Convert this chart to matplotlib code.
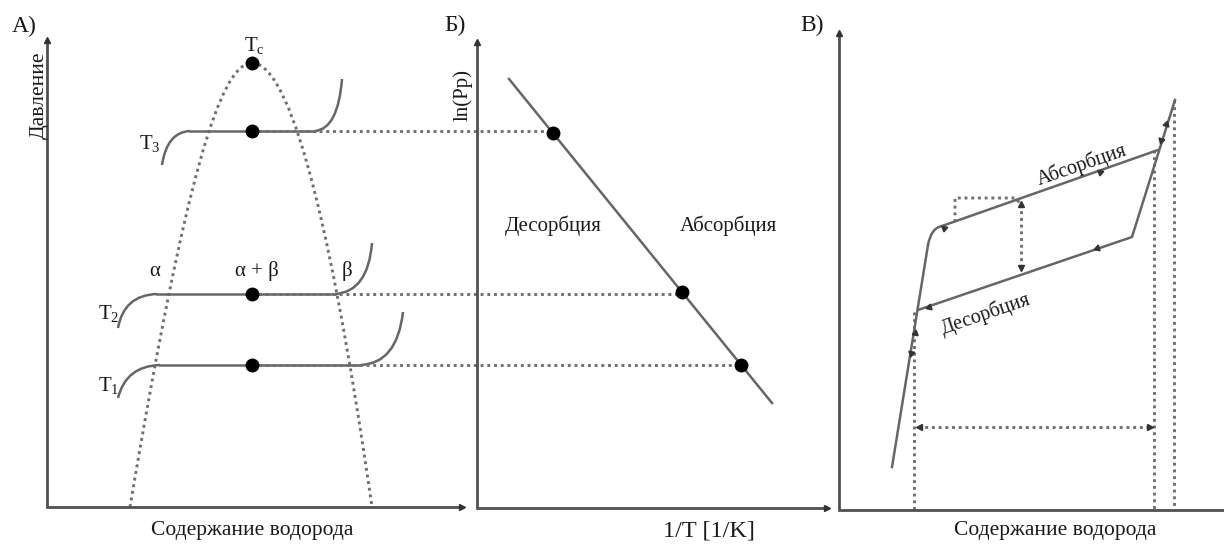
import numpy as np
import matplotlib.pyplot as plt
from matplotlib.path import Path
from matplotlib.patches import PathPatch

plt.rcParams['font.family'] = ['Liberation Serif', 'DejaVu Serif']
plt.rcParams['mathtext.fontset'] = 'custom'
plt.rcParams['mathtext.rm'] = 'Liberation Serif'
plt.rcParams['mathtext.it'] = 'Liberation Serif'

# canvas units: x to the right, y downwards (same grid for all three panels)
W, H = 1224, 544

# ---- panel A: isotherms and two-phase dome ----
axA_x = [47, 47, 462]
axA_y = [40, 507, 507]

# plateau pressures for T3, T2, T1 and plateau limits
plateau_y = [131, 294, 365]
plateau_x0 = [190, 157, 160]
plateau_x1 = [315, 335, 360]
# left branch (start, control) and right branch (control, end) of every isotherm
left_start = [(162, 165), (118, 328), (118, 398)]
left_ctrl = [(167, 132), (124, 295), (126, 366)]
right_ctrl = [(338, 129), (368, 292), (397, 364)]
right_end = [(342, 79), (372, 243), (403, 312)]
iso_labels = ['T$_3$', 'T$_2$', 'T$_1$']
iso_label_pos = [(150, 143), (109, 313), (109, 386)]

dot_x = 252
crit = (252, 63)
dome_left = [(130, 507), (185, 180), (220, 63), (252, 63)]
dome_right = [(252, 63), (285, 63), (325, 180), (372, 507)]

# ---- panel B: van 't Hoff line ----
axB_x = [477, 477, 827]
axB_y = [42, 508, 508]
vh_line_x = [509, 772]
vh_line_y = [79, 403]
vh_dots_x = [553, 682, 741]

# ---- panel C: hysteresis loop ----
axC_x = [839, 839, 1224]
axC_y = [33, 510, 510]
abs_path = [(892, 467), (928, 245), (931, 228), (942, 226), (1158, 150)]
des_path = [(918, 310), (1132, 237), (1175, 100)]
vert_dotted_x = [914, 1154, 1174]
vert_dotted_top = [312, 150, 100]
span_y = 427
mid_x = 1021
mid_y = [204, 268]
box_x = [955, 955, 1015, 1021]
box_y = [222, 198, 198, 204]

# small direction arrows on the loop: x, y, direction in degrees
flow_x = [944, 1100, 929, 1097, 915, 911, 1166, 1161]
flow_y = [228, 172, 307, 248, 333, 353, 124, 140]
flow_dir = [19, 19, 199, 199, 80, 260, 73, 253]

axis_c = '#505050'
line_c = '#666666'
dot_c = '#707070'
text_c = '#1a1a1a'
dotted = (0, (1.0, 1.3))
dlw = 2.1

fig = plt.figure(figsize=(W / 100, H / 100), dpi=100)
ax = fig.add_axes([0, 0, 1, 1])
ax.set_xlim(0, W)
ax.set_ylim(H, 0)
ax.axis('off')


def bezier(pts, **kw):
    codes = [Path.MOVETO] + [Path.CURVE4] * (len(pts) - 1)
    ax.add_patch(PathPatch(Path(pts, codes), fill=False, **kw))


def quad(p0, p1, p2, **kw):
    codes = [Path.MOVETO, Path.CURVE3, Path.CURVE3]
    ax.add_patch(PathPatch(Path([p0, p1, p2], codes), fill=False, **kw))


# axes frames
for xs, ys in [(axA_x, axA_y), (axB_x, axB_y), (axC_x, axC_y)]:
    ax.plot(xs, ys, color=axis_c, lw=2.0, solid_joinstyle='miter', zorder=3)
    ax.plot(xs[0], ys[0], marker='^', ms=4, color='#333333', zorder=4)
ax.plot(axA_x[2], axA_y[2], marker='>', ms=4, color='#333333', zorder=4)
ax.plot(axB_x[2], axB_y[2], marker='>', ms=4, color='#333333', zorder=4)

# dome
bezier(dome_left, color=dot_c, lw=dlw, linestyle=dotted)
bezier(dome_right, color=dot_c, lw=dlw, linestyle=dotted)

# isotherms
for i in range(3):
    y = plateau_y[i]
    quad(left_start[i], left_ctrl[i], (plateau_x0[i], y), color=line_c, lw=1.8)
    ax.plot([plateau_x0[i], plateau_x1[i]], [y, y], color=line_c, lw=1.8)
    quad((plateau_x1[i], y), right_ctrl[i], right_end[i], color=line_c, lw=1.8)
    ax.text(*iso_label_pos[i], iso_labels[i], fontsize=15, color=text_c,
            ha='center', va='center')

# plateau -> van 't Hoff dotted links
for y, xb in zip(plateau_y, vh_dots_x):
    ax.plot([dot_x, xb], [y, y], color=dot_c, lw=dlw, linestyle=dotted, zorder=2)

ax.plot([dot_x] * 3, plateau_y, 'o', color='black', ms=9, zorder=5)
ax.plot(*crit, 'o', color='black', ms=9, zorder=5)
ax.text(crit[0] + 2, crit[1] - 17, 'T$_c$', fontsize=15, color=text_c,
        ha='center', va='center')

ax.text(155, 271, 'α', fontsize=15, color=text_c, ha='center', va='center')
ax.text(257, 271, 'α + β', fontsize=15, color=text_c, ha='center', va='center')
ax.text(347, 271, 'β', fontsize=15, color=text_c, ha='center', va='center')

ax.text(24, 26, 'А)', fontsize=17, color=text_c, ha='center', va='center')
ax.text(39, 95, 'Давление', fontsize=15.5, color=text_c, rotation=90,
        ha='center', va='center')
ax.text(252, 531, 'Содержание водорода', fontsize=15.5, color=text_c,
        ha='center', va='center')

# panel B
ax.plot(vh_line_x, vh_line_y, color=line_c, lw=1.8)
slope = (vh_line_y[1] - vh_line_y[0]) / (vh_line_x[1] - vh_line_x[0])
vh_dots_y = [vh_line_y[0] + slope * (x - vh_line_x[0]) for x in vh_dots_x]
ax.plot(vh_dots_x, vh_dots_y, 'o', color='black', ms=9, zorder=5)
ax.text(553, 226, 'Десорбция', fontsize=15, color=text_c, ha='center', va='center')
ax.text(728, 226, 'Абсорбция', fontsize=15, color=text_c, ha='center', va='center')
ax.text(455, 25, 'Б)', fontsize=17, color=text_c, ha='center', va='center')
ax.text(463, 95, 'ln(Pp)', fontsize=15, color=text_c, rotation=90,
        ha='center', va='center')
ax.text(709, 531, '1/T [1/K]', fontsize=17.5, color=text_c, ha='center', va='center')

# panel C
for x, top in zip(vert_dotted_x, vert_dotted_top):
    ax.plot([x, x], [top, axC_y[1]], color=dot_c, lw=dlw, linestyle=dotted, zorder=2)
ax.plot([vert_dotted_x[0] + 4, vert_dotted_x[1] - 4], [span_y, span_y], color=dot_c,
        lw=dlw, linestyle=dotted, zorder=2)
ax.plot(vert_dotted_x[0] + 5, span_y, marker='<', ms=5, color='#333333')
ax.plot(vert_dotted_x[1] - 4, span_y, marker='>', ms=5, color='#333333')
ax.plot([mid_x, mid_x], mid_y, color=dot_c, lw=dlw, linestyle=dotted, zorder=2)
ax.plot(mid_x, mid_y[0], marker='^', ms=5, color='#333333')
ax.plot(mid_x, mid_y[1], marker='v', ms=5, color='#333333')
ax.plot(box_x, box_y, color=dot_c, lw=dlw, linestyle=dotted, zorder=2)

p = abs_path
ax.plot([p[0][0], p[1][0]], [p[0][1], p[1][1]], color=line_c, lw=1.8)
quad(p[1], p[2], p[3], color=line_c, lw=1.8)
ax.plot([p[3][0], p[4][0]], [p[3][1], p[4][1]], color=line_c, lw=1.8)
ax.plot([q[0] for q in des_path], [q[1] for q in des_path], color=line_c, lw=1.8)

for x, y, d in zip(flow_x, flow_y, flow_dir):
    ax.plot(x, y, marker=(3, 0, d - 90), ms=5, color='#333333', zorder=5)

ax.text(1082, 165, 'Абсорбция', fontsize=14.5, color=text_c, rotation=19,
        ha='center', va='center', rotation_mode='anchor')
ax.text(986, 314, 'Десорбция', fontsize=14.5, color=text_c, rotation=19,
        ha='center', va='center', rotation_mode='anchor')
ax.text(812, 25, 'В)', fontsize=17, color=text_c, ha='center', va='center')
ax.text(1055, 531, 'Содержание водорода', fontsize=15.5, color=text_c,
        ha='center', va='center')

fig.savefig('out.png', dpi=100, facecolor='white')
